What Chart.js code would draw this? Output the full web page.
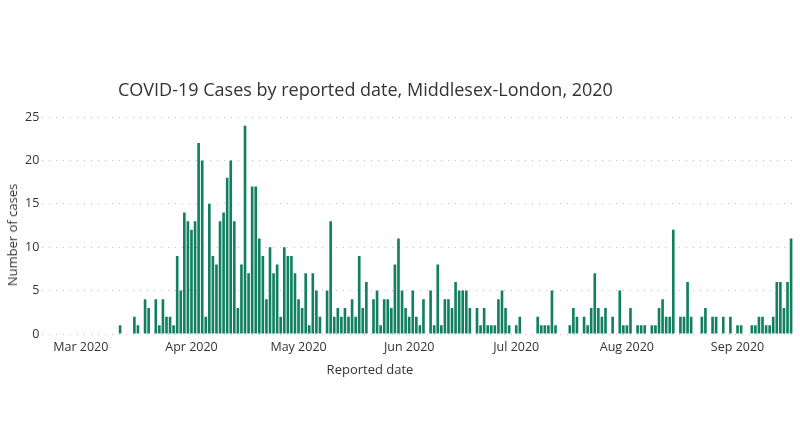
<!DOCTYPE html>
<html>
<head>
<meta charset="utf-8">
<script src="https://cdn.jsdelivr.net/npm/chart.js@4/dist/chart.umd.min.js"></script>
<style>
  html, body { margin: 0; padding: 0; background: #ffffff; }
  #wrap { position: relative; width: 800px; height: 433px; overflow: hidden; }
  #c { position: absolute; left: 0; top: 0; }
  .t { position: absolute; white-space: nowrap; font-family: "Open Sans", "Noto Sans", sans-serif; }
  #title { left: 118px; top: 76px; font-size: 18px; line-height: 26px; color: #333333; }
  #xt { left: 370px; top: 360px; font-size: 13px; line-height: 18px; color: #333333; transform: translateX(-50%); }
  #yt { left: 12px; top: 235px; font-size: 13px; line-height: 18px; color: #333333; transform: translate(-50%, -50%) rotate(-90deg); }
</style>
</head>
<body>
<div id="wrap">
  <canvas id="c" width="800" height="433"></canvas>
  <div class="t" id="title">COVID-19 Cases by reported date, Middlesex-London, 2020</div>
  <div class="t" id="xt">Reported date</div>
  <div class="t" id="yt">Number of cases</div>
</div>
<script>
// Daily reported cases, starting 2020-03-01 (index 0)
const startDate = '2020-03-01';
const cases = [
  0,0,0,0,0,0,0,0,0,0,0,1,0,0,0,2,1,0,4,3,0,4,1,4,2,2,1,9,5,14,13,
  12,13,22,20,2,15,9,8,13,14,18,20,13,3,8,24,7,17,17,11,9,4,10,7,8,2,10,9,9,7,
  4,3,7,1,7,5,2,0,5,13,2,3,2,3,2,4,2,9,3,6,0,4,5,1,4,4,3,8,11,5,3,
  2,5,2,1,4,0,5,1,8,1,4,4,3,6,5,5,5,3,0,3,1,3,1,1,1,4,5,3,1,0,
  1,2,0,0,0,0,2,1,1,1,5,1,0,0,0,1,3,2,0,2,1,3,7,3,2,3,0,2,0,5,1,
  1,3,0,1,1,1,0,1,1,3,4,2,2,12,0,2,2,6,2,0,0,2,3,0,2,2,0,2,0,2,0,
  1,1,0,0,1,1,2,2,1,1,2,6,6,3,6,11
];
// Month tick positions (days since start) and their labels
const monthTicks = [0, 31, 61, 92, 122, 153, 184];
const monthLabels = ['Mar 2020', 'Apr 2020', 'May 2020', 'Jun 2020', 'Jul 2020', 'Aug 2020', 'Sep 2020'];
const yTicks = [0, 5, 10, 15, 20, 25];

const points = cases.map((v, i) => ({ x: i, y: v }));
const tickFont = { family: '"Open Sans", "Noto Sans", sans-serif', size: 12.5 };

new Chart(document.getElementById('c'), {
  type: 'bar',
  data: {
    datasets: [{
      data: points,
      backgroundColor: '#12805f',
      borderWidth: 0,
      barPercentage: 0.74,
      categoryPercentage: 1.0
    }]
  },
  options: {
    responsive: false,
    animation: false,
    layout: { padding: { left: 22, right: 5, top: 117, bottom: 72 } },
    plugins: { legend: { display: false }, tooltip: { enabled: false }, title: { display: false } },
    scales: {
      x: {
        type: 'linear',
        offset: false,
        min: -10.8,
        max: 200.1,
        grid: { display: false, drawTicks: false, offset: false },
        border: { display: false },
        afterBuildTicks: (s) => { s.ticks = monthTicks.map(v => ({ value: v })); },
        ticks: {
          autoSkip: false,
          maxRotation: 0,
          padding: 6,
          color: '#333333',
          font: tickFont,
          callback: (v) => { const i = monthTicks.indexOf(v); return i >= 0 ? monthLabels[i] : ''; }
        }
      },
      y: {
        min: 0,
        max: 25,
        afterBuildTicks: (s) => { s.ticks = yTicks.map(v => ({ value: v })); },
        grid: { color: '#c0c0c0', lineWidth: 1, drawTicks: false },
        border: { display: false, dash: [1, 6] },
        ticks: { padding: 3, color: '#333333', font: tickFont }
      }
    }
  }
});
</script>
</body>
</html>
